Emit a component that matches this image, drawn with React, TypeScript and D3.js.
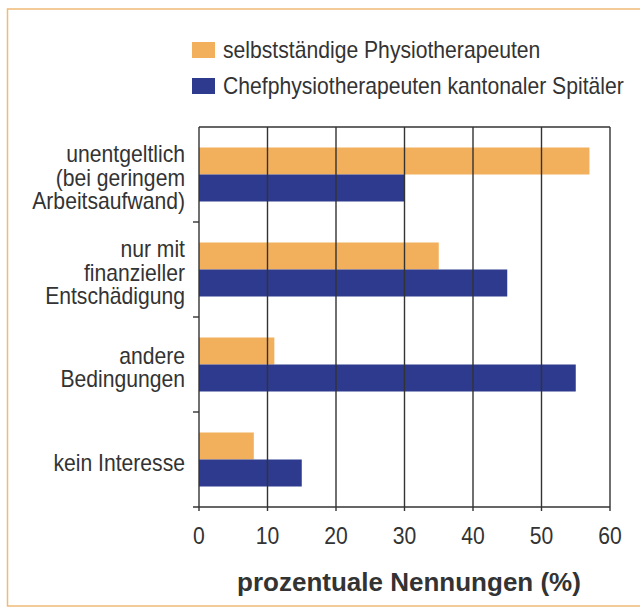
import React from 'react';
import * as d3 from 'd3';

const categories = [
  ['unentgeltlich', '(bei geringem', 'Arbeitsaufwand)'],
  ['nur mit', 'finanzieller', 'Entschädigung'],
  ['andere', 'Bedingungen'],
  ['kein Interesse'],
];
const seriesNames = ['selbstständige Physiotherapeuten', 'Chefphysiotherapeuten kantonaler Spitäler'];
const selbststaendig = [57, 35, 11, 8];
const chefs = [30, 45, 55, 15];
const xTicks = [0, 10, 20, 30, 40, 50, 60];

const ORANGE = '#f2b05c';
const BLUE = '#2d3a8e';
const INK = '#333333';
const FONT = '"Liberation Sans", Arial, Helvetica, sans-serif';

// condensed look: no narrow font installed, so squeeze horizontally
const Narrow: React.FC<{ x: number; y: number; anchor?: string; children: React.ReactNode }> = ({
  x,
  y,
  anchor = 'start',
  children,
}) => (
  <text
    transform={`translate(${x},${y}) scale(0.92,1)`}
    textAnchor={anchor}
    fontFamily={FONT}
    fontSize={23}
    fill={INK}
  >
    {children}
  </text>
);

export default function App() {
  const W = 640;
  const H = 608;
  const left = 199;
  const right = 610;
  const top = 127;
  const bottom = 507;

  const x = d3.scaleLinear().domain([0, 60]).range([left, right]);
  const yBand = d3.scaleBand<number>().domain(d3.range(categories.length)).range([top, bottom]);
  const barH = 27;
  const series = [selbststaendig, chefs];
  const colors = [ORANGE, BLUE];
  const lineH = 23.5;

  return (
    <svg width={W} height={H} style={{ position: 'absolute', left: 0, top: 0, background: '#fff' }}>
      {/* orange frame */}
      <path d={`M${W + 5},9 H7.5 V606 H${W + 5}`} fill="none" stroke="#efbb78" strokeWidth={1.5} />

      {/* legend */}
      {seriesNames.map((name, i) => (
        <g key={name}>
          <rect x={192} y={42 + i * 36} width={23} height={16} fill={colors[i]} />
          <Narrow x={223} y={58 + i * 36}>{name}</Narrow>
        </g>
      ))}

      {/* bars */}
      {series.map((vals, s) =>
        vals.map((v, i) => {
          const c = (yBand(i) as number) + yBand.bandwidth() / 2;
          return (
            <rect
              key={`${s}-${i}`}
              x={x(0)}
              y={c - barH + s * barH}
              width={x(v) - x(0)}
              height={barH}
              fill={colors[s]}
            />
          );
        })
      )}

      {/* grid + frame */}
      {xTicks.map((t) => (
        <line key={t} x1={x(t)} x2={x(t)} y1={top} y2={bottom + 4} stroke={INK} strokeWidth={1.4} />
      ))}
      <line x1={left} x2={right} y1={top} y2={top} stroke={INK} strokeWidth={1.4} />
      <line x1={left - 6} x2={right} y1={bottom} y2={bottom} stroke={INK} strokeWidth={1.4} />
      {d3.range(1, categories.length).map((i) => (
        <line key={i} x1={left - 6} x2={left} y1={yBand(i) as number} y2={yBand(i) as number} stroke={INK} strokeWidth={1.4} />
      ))}

      {/* category labels */}
      {categories.map((lines, i) => {
        const c = (yBand(i) as number) + yBand.bandwidth() / 2;
        const first = c - ((lines.length - 1) * lineH) / 2 + 11;
        return lines.map((l, j) => (
          <Narrow key={`${i}-${j}`} x={185} y={first + j * lineH} anchor="end">
            {l}
          </Narrow>
        ));
      })}

      {/* x tick labels */}
      {xTicks.map((t) => (
        <Narrow key={t} x={x(t)} y={544} anchor="middle">
          {t}
        </Narrow>
      ))}

      <text x={409} y={591} textAnchor="middle" fontFamily={FONT} fontWeight="bold" fontSize={26} fill={INK}>
        prozentuale Nennungen (%)
      </text>
    </svg>
  );
}
